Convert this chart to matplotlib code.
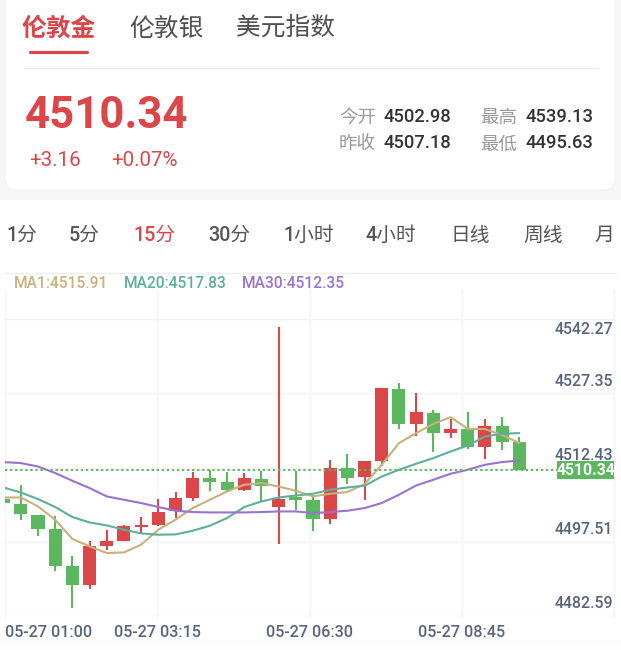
import matplotlib
matplotlib.use('Agg')
import matplotlib.pyplot as plt
from matplotlib.patches import FancyBboxPatch, Rectangle
import numpy as np

W, H, DPI = 621, 650, 100

# ---------------- data ----------------
tabs = ['伦敦金', '伦敦银', '美元指数']
last_price = 4510.34
change_txt = '+3.16'
change_pct_txt = '+0.07%'
stat_names = ['今开', '最高', '昨收', '最低']
stat_values = ['4502.98', '4539.13', '4507.18', '4495.63']
periods = ['1分', '5分', '15分', '30分', '1小时', '4小时', '日线', '周线', '月']
active_period = '15分'
ma_names = ['MA1', 'MA20', 'MA30']
ma_last = ['4515.91', '4517.83', '4512.35']

opens = [4504.65, 4503.59, 4501.44, 4498.48, 4491.05, 4487.23, 4495.21, 4496.07,
         4498.89, 4499.29, 4502.10, 4504.79, 4508.81, 4507.93, 4506.46, 4508.67,
         4502.98, 4504.91, 4504.45, 4500.57, 4510.88, 4508.93, 4512.15, 4526.76,
         4519.72, 4521.99, 4517.86, 4518.66, 4515.16, 4519.38, 4516.11]
closes = [4503.79, 4501.58, 4498.63, 4491.19, 4487.37, 4495.21, 4496.07, 4499.23,
          4499.29, 4502.04, 4504.79, 4508.81, 4507.93, 4506.46, 4508.73, 4507.27,
          4504.65, 4504.45, 4500.57, 4510.82, 4508.81, 4512.15, 4526.90, 4519.66,
          4522.07, 4517.86, 4518.66, 4515.16, 4519.38, 4515.97, 4510.34]
highs = [4504.65, 4507.47, 4501.44, 4501.10, 4493.20, 4496.21, 4498.42, 4499.43,
         4500.98, 4504.59, 4505.92, 4510.02, 4510.48, 4509.94, 4509.82, 4510.14,
         4539.13, 4510.14, 4505.46, 4512.43, 4513.64, 4512.15, 4526.90, 4528.02,
         4525.89, 4522.54, 4520.67, 4522.07, 4520.79, 4521.07, 4517.11]
lows = [4503.79, 4500.43, 4497.08, 4490.19, 4482.69, 4486.57, 4494.26, 4496.07,
        4497.76, 4499.23, 4500.78, 4504.11, 4506.26, 4506.26, 4506.12, 4504.11,
        4495.63, 4502.30, 4498.08, 4499.57, 4507.67, 4504.45, 4511.14, 4518.66,
        4517.37, 4514.04, 4516.97, 4514.70, 4512.69, 4514.36, 4510.34]
ma1 = [4504.91, 4504.91, 4503.11, 4500.43, 4496.56, 4495.07, 4493.74, 4493.86,
       4495.41, 4498.42, 4500.43, 4502.78, 4504.45, 4506.12, 4507.47, 4507.81,
       4507.12, 4506.26, 4505.12, 4505.66, 4506.00, 4507.61, 4511.49, 4515.85,
       4517.86, 4519.72, 4521.07, 4518.72, 4518.66, 4517.51, 4515.85]
ma20 = [4506.92, 4505.92, 4504.59, 4502.99, 4500.98, 4499.89, 4499.29, 4498.42,
        4497.68, 4497.42, 4497.48, 4498.22, 4499.23, 4500.78, 4502.99, 4504.11,
        4504.91, 4505.30, 4505.66, 4506.46, 4506.92, 4507.27, 4509.13, 4510.48,
        4511.69, 4512.83, 4514.16, 4515.36, 4517.17, 4517.71, 4517.86]
ma30 = [4512.03, 4511.83, 4511.14, 4509.82, 4508.27, 4506.80, 4505.12, 4504.45,
        4503.79, 4502.99, 4502.24, 4501.98, 4501.90, 4501.90, 4501.90, 4501.98,
        4502.10, 4502.10, 4501.78, 4501.98, 4502.24, 4502.78, 4503.79, 4505.46,
        4507.33, 4508.47, 4509.68, 4510.48, 4511.49, 4512.03, 4512.35]
y_ticks = [4482.59, 4497.51, 4512.43, 4527.35, 4542.27]
x_labels = ['05-27 01:00', '05-27 03:15', '05-27 06:30', '05-27 08:45']

# ---------------- style ----------------
RED = '#db4649'
GREEN = '#5cb85f'
C_MA = ['#c9b07d', '#5daf9e', '#9b72cf']
AXIS_TXT = '#56647f'
GRID = '#f4f4f4'
NUM = ['Roboto', 'Noto Sans CJK SC']
CJK = ['Noto Sans CJK SC', 'DejaVu Sans']
MED = 'medium'

fig = plt.figure(figsize=(W / DPI, H / DPI), dpi=DPI)
fig.patch.set_facecolor('#f6f6f6')

bg = fig.add_axes([0, 0, 1, 1])
bg.set_xlim(0, W)
bg.set_ylim(H, 0)
bg.axis('off')

# cards
bg.add_patch(FancyBboxPatch((5, -20), 610, 210, boxstyle='round,pad=0,rounding_size=12',
                            fc='white', ec='#f0f0f0', lw=0.6))
bg.add_patch(Rectangle((0, 200), W, 450, fc='white', ec='none'))
grad = np.linspace(0, 1, 20).reshape(-1, 1)
bg.imshow(grad, extent=(0, W, 650, 640), cmap=matplotlib.colors.LinearSegmentedColormap.from_list(
    'g', ['#fafafa', '#ffffff']), aspect='auto', zorder=1)
bg.plot([24, 597], [68, 68], color='#e9e9e9', lw=1)

# tabs
tab_x = [22, 129, 236]
for t, x in zip(tabs, tab_x):
    active = t == tabs[0]
    bg.text(x, 29, t, fontsize=17.8, family=CJK, color=RED if active else '#4f4f4f',
            weight='bold' if active else 'normal', ha='left', va='center')
bg.plot([29.5, 87], [51.7, 51.7], color=RED, lw=2.3, solid_capstyle='round')

# price block
bg.text(25, 128.5, f'{last_price:.2f}', fontsize=31.5, family=NUM, weight='bold',
        color=RED, ha='left', va='baseline')
bg.text(29, 166.5, change_txt, fontsize=14.8, family=NUM, color=RED, ha='left', va='baseline')
bg.text(111, 166.5, change_pct_txt, fontsize=14.8, family=NUM, color=RED, ha='left', va='baseline')

stat_pos = [(339, 383, 122), (480, 525, 122), (339, 383, 148), (480, 525, 148)]
for name, val, (xn, xv, yb) in zip(stat_names, stat_values, stat_pos):
    bg.text(xn, yb + 1.5, name, fontsize=13.3, family=CJK, color='#9a9a9a', ha='left', va='baseline')
    bg.text(xv, yb, val, fontsize=13.2, family=NUM, weight=MED, color='#333333',
            ha='left', va='baseline')

# period row
period_x = [6, 69, 133, 208, 283, 366, 451, 523, 594]
for p, x in zip(periods, period_x):
    bg.text(x, 235.5, p, fontsize=14.2, family=NUM, weight=MED,
            color=RED if p == active_period else '#555555', ha='left', va='center')

bg.plot([5, 616], [272.5, 272.5], color='#eeeeee', lw=1)
ma_x = [14, 124, 242]
for n, v, x, c in zip(ma_names, ma_last, ma_x, C_MA):
    bg.text(x, 287.5, f'{n}:{v}', fontsize=11.2, family=NUM, weight=MED, color=c,
            ha='left', va='baseline')

# x labels
xl_pos = [(5, 'left'), (157.3, 'center'), (309.5, 'center'), (461.8, 'center')]
for s, (x, ha) in zip(x_labels, xl_pos):
    bg.text(x, 637, s, fontsize=11.6, family=NUM, weight=MED, color=AXIS_TXT, ha=ha, va='baseline')

# ---------------- chart ----------------
L, R, T, B = 5, 614, 290, 616
ax = fig.add_axes([L / W, 1 - B / H, (R - L) / W, (B - T) / H])
ax.set_facecolor('none')
grid_off = 1.52
ax.set_xlim(0.08, 35.51)
ax.set_ylim(y_ticks[0] - grid_off, 4546.64)
for s in ax.spines.values():
    s.set_visible(False)
ax.set_xticks([])
ax.set_yticks([])

yt = ax.get_yaxis_transform()   # x in axes, y in data
for v in y_ticks:
    ax.axhline(v - grid_off, color=GRID, lw=1, zorder=0)
for f in [0, 0.25, 0.5, 0.75, 1.0]:
    ax.plot([f, f], [0, 1], transform=ax.transAxes, color=GRID, lw=1, zorder=0, clip_on=False)

x = np.arange(len(opens))
o = np.array(opens); c = np.array(closes); h = np.array(highs); lo = np.array(lows)
up = c >= o
cols = np.where(up, RED, GREEN)
bw = 0.76
ax.vlines(x, lo, h, colors=cols, lw=1.5, zorder=2)
body_b = np.minimum(o, c)
body_h = np.maximum(np.abs(c - o), 0.42)
ax.bar(x, body_h, bottom=body_b, width=bw, color=cols, zorder=3, linewidth=0)

for series, col in zip([ma1, ma20, ma30], C_MA):
    ax.plot(x, series, color=col, lw=1.5, zorder=4, solid_capstyle='round')

# current price line & label
box_left = 0.9064
ax.plot([0, box_left], [last_price, last_price], transform=yt, color=GREEN, lw=1.4,
        linestyle=(0, (1.2, 1.4)), zorder=5)

# y labels
for i, v in enumerate(y_ticks):
    g = v - grid_off
    if i == len(y_ticks) - 1:
        ax.annotate(f'{v:.2f}', xy=(0.9985, g), xycoords=yt, xytext=(0, -2.2),
                    textcoords='offset points', ha='right', va='top', fontsize=11.4,
                    family=NUM, weight=MED, color=AXIS_TXT, zorder=6)
    else:
        ax.annotate(f'{v:.2f}', xy=(0.9985, g), xycoords=yt, xytext=(0, 3.5),
                    textcoords='offset points', ha='right', va='bottom', fontsize=11.4,
                    family=NUM, weight=MED, color=AXIS_TXT, zorder=6)

# green price box
half_h = 9 * (4546.64 - (y_ticks[0] - grid_off)) / (B - T)
ax.add_patch(Rectangle((box_left, last_price - half_h), 1 - box_left, 2 * half_h,
                       transform=yt, fc=GREEN, ec='none', zorder=7, clip_on=False))
ax.text((box_left + 1) / 2, last_price, f'{last_price:.2f}', transform=yt, ha='center',
        va='center', fontsize=11.3, weight='bold', family=NUM, color='white', zorder=8)

fig.savefig('out.png', dpi=DPI, facecolor=fig.get_facecolor())
